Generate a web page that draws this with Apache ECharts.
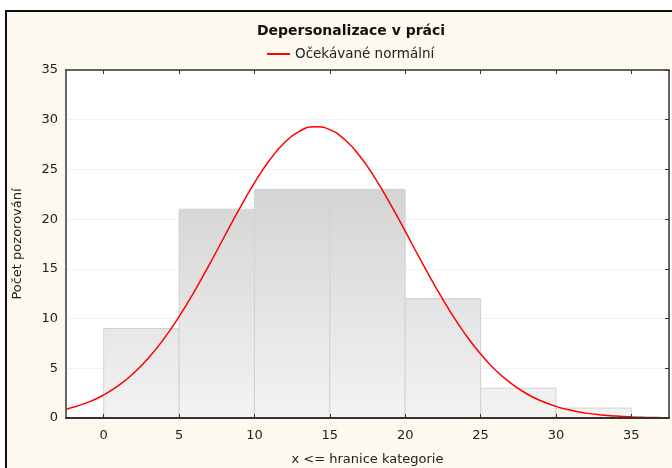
<!DOCTYPE html>
<html>
<head>
<meta charset="utf-8">
<script src="https://cdn.jsdelivr.net/npm/echarts@6/dist/echarts.min.js"></script>
<style>
html,body{margin:0;padding:0;background:#ffffff;}
#c{width:672px;height:468px;}
</style>
</head>
<body>
<div id="c"></div>
<script>
// Histogram bins (lower bound, upper bound) and counts
var binLow = [0, 5, 10, 15, 20, 25, 30];
var binHigh = [5, 10, 15, 20, 25, 30, 35];
var counts = [9, 21, 23, 23, 12, 3, 1];
// Expected normal curve
var curveX = [-2.5, -1, 0, 1, 2, 3, 4, 5, 6, 7, 8, 9, 10, 11, 12, 13, 14, 15, 16, 17, 18, 19, 20, 21, 22, 23, 24, 25, 26, 27, 28, 29, 30, 31, 32, 33, 34, 35, 36, 37, 37.5];
var curveY = [0.87, 1.60, 2.32, 3.28, 4.53, 6.09, 7.98, 10.19, 12.69, 15.40, 18.23, 21.03, 23.65, 25.92, 27.70, 28.85, 29.30, 29.00, 27.98, 26.32, 24.13, 21.57, 18.80, 15.96, 13.22, 10.67, 8.39, 6.44, 4.81, 3.51, 2.49, 1.73, 1.17, 0.77, 0.49, 0.31, 0.19, 0.11, 0.06, 0.03, 0.02];
var xTicks = [0, 5, 10, 15, 20, 25, 30, 35];

var barData = binLow.map(function (lo, i) { return [lo, binHigh[i], counts[i]]; });
var lineData = curveX.map(function (x, i) { return [x, curveY[i]]; });

var chart = echarts.init(document.getElementById('c'));
var FONT = '"DejaVu Sans", "Liberation Sans", sans-serif';
chart.setOption({
  backgroundColor: '#ffffff',
  animation: false,
  graphic: [{
    type: 'rect', z: -10, silent: true,
    shape: { x: 6, y: 11, width: 680, height: 470 },
    style: { fill: '#fdf9ee', stroke: '#111111', lineWidth: 2 }
  }],
  title: {
    text: 'Depersonalizace v práci',
    left: 346, top: 19, textAlign: 'center',
    textStyle: { fontFamily: FONT, fontSize: 14, fontWeight: 'bold', color: '#111' }
  },
  legend: {
    top: 42, left: 262,
    icon: 'rect', itemWidth: 23, itemHeight: 2, itemGap: 8,
    textStyle: { fontFamily: FONT, fontSize: 13.5, color: '#222' },
    data: ['Očekávané normální']
  },
  grid: { left: 66, top: 70, right: 3, bottom: 50, outerBoundsMode: 'none', containLabel: false, show: true, backgroundColor: '#ffffff', borderWidth: 0 },
  xAxis: [{
    type: 'value', min: -2.5, max: 37.5, z: 10,
    name: 'x <= hranice kategorie', nameLocation: 'middle', nameGap: 35,
    nameTextStyle: { fontFamily: FONT, fontSize: 13, color: '#222' },
    axisLine: { show: true, onZero: false, lineStyle: { color: '#333', width: 2 } },
    axisTick: { show: true, inside: true, length: 4, customValues: xTicks, lineStyle: { color: '#333' } },
    axisLabel: { customValues: xTicks, fontFamily: FONT, fontSize: 13, color: '#222', margin: 11 },
    splitLine: { show: false }
  }, {
    type: 'value', min: -2.5, max: 37.5, position: 'top', z: 10,
    axisLine: { show: true, onZero: false, lineStyle: { color: '#333', width: 1.5 } },
    axisTick: { show: true, inside: true, length: 4, customValues: xTicks, lineStyle: { color: '#333' } },
    axisLabel: { show: false },
    splitLine: { show: false }
  }],
  yAxis: [{
    type: 'value', min: 0, max: 35, interval: 5,
    name: 'Počet pozorování', nameLocation: 'middle', nameGap: 42,
    nameTextStyle: { fontFamily: FONT, fontSize: 13, color: '#222' },
    axisLine: { show: true, onZero: false, lineStyle: { color: '#333', width: 1.5 } },
    axisTick: { show: false },
    axisLabel: { fontFamily: FONT, fontSize: 13, color: '#222', margin: 8 },
    splitLine: { show: true, lineStyle: { color: '#f0f0f0', width: 1 } }
  }, {
    type: 'value', min: 0, max: 35, interval: 5, position: 'right', z: 10,
    axisLine: { show: true, onZero: false, lineStyle: { color: '#333', width: 1.5 } },
    axisTick: { show: true, inside: true, length: 4, lineStyle: { color: '#333' } },
    axisLabel: { show: false },
    splitLine: { show: false }
  }],
  series: [{
    type: 'custom',
    xAxisIndex: 0, yAxisIndex: 0,
    data: barData,
    encode: { x: [0, 1], y: 2 },
    renderItem: function (params, api) {
      var p1 = api.coord([api.value(0), api.value(2)]);
      var p2 = api.coord([api.value(1), 0]);
      var yTop = api.coord([0, 35])[1];
      var yBot = api.coord([0, 0])[1];
      return {
        type: 'rect',
        shape: { x: p1[0], y: p1[1], width: p2[0] - p1[0], height: p2[1] - p1[1] },
        style: {
          fill: new echarts.graphic.LinearGradient(0, yTop, 0, yBot, [
            { offset: 0, color: '#c4c4c4' },
            { offset: 1, color: '#f3f3f3' }
          ], true),
          stroke: '#d2d2d2', lineWidth: 1
        }
      };
    }
  }, {
    name: 'Očekávané normální',
    type: 'line',
    xAxisIndex: 0, yAxisIndex: 0,
    data: lineData,
    smooth: true, showSymbol: false, symbol: 'none',
    lineStyle: { color: '#ff0000', width: 1.5 },
    itemStyle: { color: '#ff0000' },
    z: 5
  }]
});
</script>
</body>
</html>
